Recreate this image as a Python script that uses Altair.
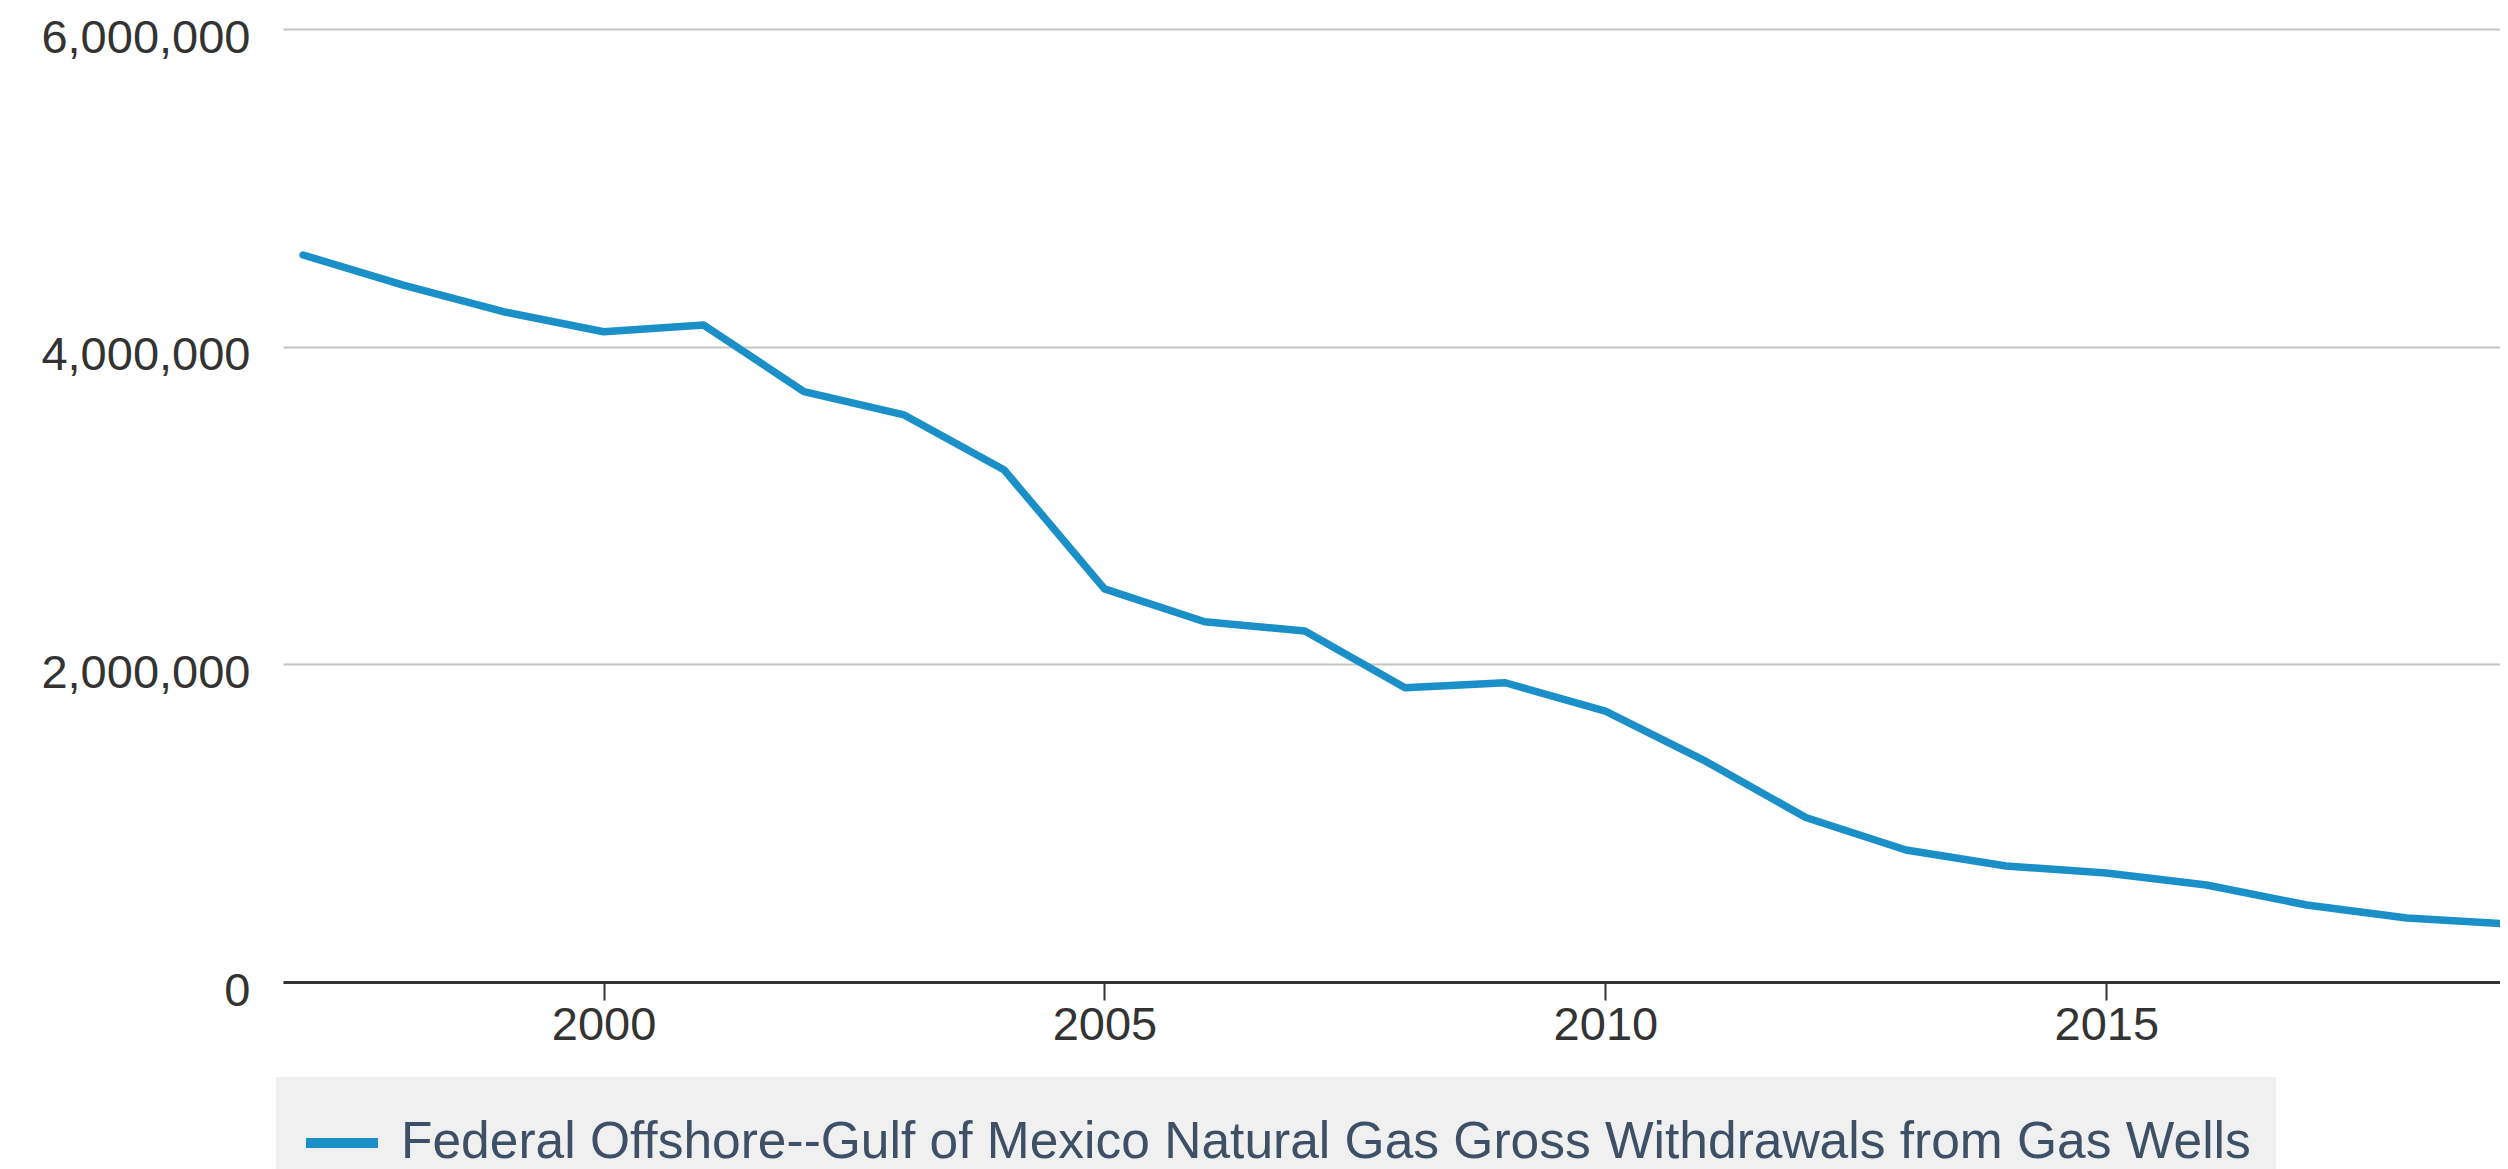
import altair as alt
import pandas as pd

years = list(range(1997, 2020))
values = [4577000, 4388000, 4220000, 4094000, 4136000, 3717000, 3570000, 3223000,
          2475000, 2268000, 2210000, 1853000, 1884000, 1706000, 1390000, 1036000,
          831000, 730000, 686000, 611000, 485000, 403000, 365000]
series_name = "Federal Offshore--Gulf of Mexico Natural Gas Gross Withdrawals from Gas Wells"
x_ticks = [2000, 2005, 2010, 2015]
y_ticks = [0, 2000000, 4000000, 6000000]

df = pd.DataFrame({"year": years, "value": values, "series": [series_name] * len(years)})

FONT = "Liberation Sans"

chart = alt.Chart(df).mark_line(
    strokeWidth=7.5, strokeJoin="round", strokeCap="round", clip=True
).encode(
    x=alt.X("year:Q",
            scale=alt.Scale(domain=[1996.8, 2018.93], nice=False, zero=False),
            axis=alt.Axis(values=x_ticks, format="d", title=None, grid=False,
                          domainColor="#333333", domainWidth=3,
                          tickColor="#333333", tickWidth=2, tickSize=18,
                          labelFontSize=47, labelFont=FONT, labelColor="#333333",
                          labelPadding=2)),
    y=alt.Y("value:Q",
            scale=alt.Scale(domain=[0, 6000000], nice=False),
            axis=alt.Axis(values=y_ticks, format=",.0f", title=None, domain=False,
                          ticks=False, grid=True, gridColor="#c4c4c4", gridWidth=2,
                          labelFontSize=47, labelFont=FONT, labelColor="#333333",
                          labelPadding=33, labelOffset=9, labelLimit=600)),
    color=alt.Color("series:N",
                    scale=alt.Scale(range=["#1b8fc7"]),
                    legend=alt.Legend(title=None, orient="none", legendX=-7, legendY=1048,
                                      fillColor="#f0f0f0", padding=25,
                                      symbolType="stroke", symbolSize=5184,
                                      symbolStrokeWidth=10, labelOffset=18,
                                      labelFont=FONT, labelFontSize=51.5,
                                      labelColor="#3e5066", labelLimit=3000)),
).properties(
    width=2217,
    height=953,
    autosize=alt.AutoSizeParams(type="none"),
    padding={"left": 275, "top": 21, "right": 0, "bottom": 187},
).configure_view(stroke=None)

chart.save("out.html", embed_options={"renderer": "svg", "actions": False})
